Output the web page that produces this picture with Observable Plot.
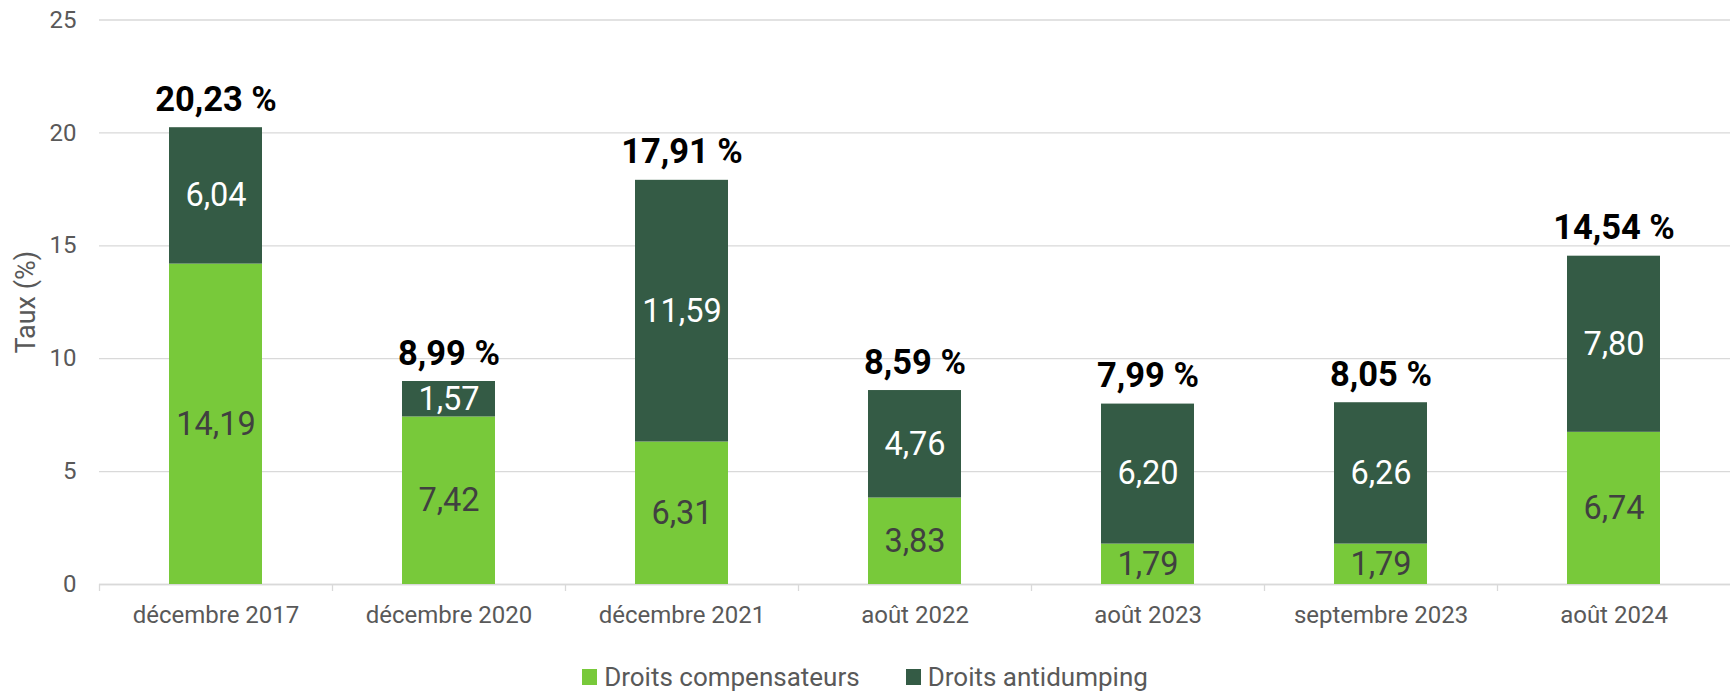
<!DOCTYPE html>
<html><head><meta charset="utf-8">
<script src="https://cdn.jsdelivr.net/npm/d3@7"></script>
<script src="https://cdn.jsdelivr.net/npm/@observablehq/plot@0.6"></script>
<style>
body{margin:0;background:#fff;font-family:Roboto,sans-serif;}
#wrap{position:relative;width:1730px;height:693px;}
#legend{position:absolute;left:0;top:663px;width:1730px;display:flex;justify-content:center;align-items:center;font-size:26px;color:#595959;line-height:28px;}
.item{display:flex;align-items:center;}
.item + .item{margin-left:46px;}
.sw{width:15px;height:16px;margin-right:7px;}
</style></head><body>
<div id="wrap"><div id="chart"></div><div id="legend"></div></div>
<script>
const categories = ["décembre 2017","décembre 2020","décembre 2021","août 2022","août 2023","septembre 2023","août 2024"];
const compensateurs = [14.19, 7.42, 6.31, 3.83, 1.79, 1.79, 6.74];
const antidumping = [6.04, 1.57, 11.59, 4.76, 6.20, 6.26, 7.80];
const totals = [20.23, 8.99, 17.91, 8.59, 7.99, 8.05, 14.54];
const yTicks = [0, 5, 10, 15, 20, 25];
const seriesNames = ["Droits compensateurs", "Droits antidumping"];
const colors = ["#78c93a", "#345b45"];

const fmt = v => d3.format(".2f")(v).replace(".", ",");
const data = categories.flatMap((c, i) => [
  {cat: c, serie: seriesNames[0], value: compensateurs[i]},
  {cat: c, serie: seriesNames[1], value: antidumping[i]}
]);
const totalData = categories.map((c, i) => ({cat: c, total: totals[i]}));

const W = 1730, H = 640, ML = 99, MR = 0;
const step = (W - ML - MR) / categories.length;

const chart = Plot.plot({
  width: W, height: H,
  marginLeft: ML, marginRight: MR, marginTop: 19.5, marginBottom: H - 584,
  style: {fontFamily: "Roboto, sans-serif", fontSize: "24px", background: "#fff"},
  x: {domain: categories, paddingInner: 0.6, paddingOuter: 0.3, label: null},
  y: {domain: [0, 25], label: null},
  color: {domain: seriesNames, range: colors},
  marks: [
    Plot.gridY(yTicks, {stroke: "#d9d9d9", strokeOpacity: 1, strokeWidth: 1.3}),
    Plot.axisY(yTicks, {tickSize: 0, tickPadding: 23, fontSize: 24, fill: "#595959", label: null}),
    Plot.text(["Taux (%)"], {frameAnchor: "left", dx: -73, rotate: -90, textAnchor: "middle", lineAnchor: "middle", fontSize: 27, fill: "#595959"}),
    Plot.ruleY([0], {stroke: "#d9d9d9", strokeWidth: 1.5}),
    Plot.axisX({tickSize: 0, tickPadding: 21, fontSize: 24, fill: "#595959", label: null}),
    Plot.axisX({text: null, tickSize: 7, dx: -step / 2, stroke: "#d9d9d9", strokeWidth: 1.3, label: null}),
    Plot.barY(data, {x: "cat", y: "value", fill: "serie"}),
    Plot.text(data, Plot.filter(d => d.serie === seriesNames[0], Plot.stackY({x: "cat", y: "value", text: d => fmt(d.value), fill: "#404040", fontSize: 32.5, lineAnchor: "middle"}))),
    Plot.text(data, Plot.filter(d => d.serie === seriesNames[1], Plot.stackY({x: "cat", y: "value", text: d => fmt(d.value), fill: "#ffffff", fontSize: 32.5, lineAnchor: "middle"}))),
    Plot.text(totalData, {x: "cat", y: "total", text: d => fmt(d.total) + " %", lineAnchor: "bottom", dy: -17, fontSize: 34.5, fontWeight: "bold", fill: "#000"})
  ]
});
document.getElementById("chart").appendChild(chart);

const legend = document.getElementById("legend");
seriesNames.forEach((n, i) => {
  const it = document.createElement("div");
  it.className = "item";
  const sw = document.createElement("div");
  sw.className = "sw";
  sw.style.background = colors[i];
  const t = document.createElement("span");
  t.textContent = n;
  it.appendChild(sw); it.appendChild(t);
  legend.appendChild(it);
});
</script>
</body></html>
